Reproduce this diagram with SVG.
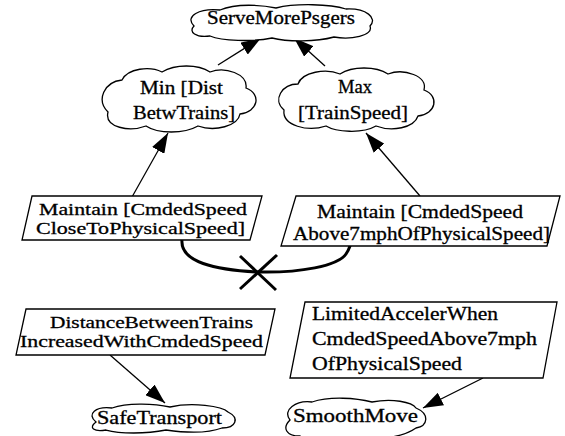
<svg xmlns="http://www.w3.org/2000/svg" width="565" height="436" viewBox="0 0 565 436">
<style>
text{font-family:"Liberation Serif","Times New Roman",serif;font-size:18px;fill:#000;stroke:#000;stroke-width:0.3}
text.tight{font-size:17px}
.shape{fill:#fff;stroke:#000;stroke-width:1.3}
.edge{fill:none;stroke:#000;stroke-width:1.3}
.bold{fill:none;stroke:#000;stroke-width:3}
</style>
<defs>
<marker id="ah" viewBox="0 0 20 14" refX="20" refY="7" markerWidth="20" markerHeight="14" markerUnits="userSpaceOnUse" orient="auto">
<path d="M0,0 L20,7 L0,14 Z" fill="#000"/>
</marker>
</defs>
<rect width="565" height="436" fill="#fff"/>
<g id="connectors">
<line class="edge" x1="218" y1="65" x2="261" y2="38" marker-end="url(#ah)"/>
<line class="edge" x1="325" y1="66" x2="294" y2="38" marker-end="url(#ah)"/>
<line class="edge" x1="132" y1="197" x2="168" y2="133" marker-end="url(#ah)"/>
<line class="edge" x1="420" y1="196" x2="366" y2="133" marker-end="url(#ah)"/>
<line class="edge" x1="110" y1="355" x2="165" y2="403" marker-end="url(#ah)"/>
<line class="edge" x1="483" y1="378" x2="423" y2="408" marker-end="url(#ah)"/>
<path class="bold" d="M182,240 C180,262 215,270 258,272 C300,273 338,266 346,254 C350,248 351,244 351,240"/>
<line class="bold" x1="240" y1="256" x2="276" y2="290"/>
<line class="bold" x1="277" y1="255" x2="240" y2="289"/>
</g>
<g id="ServeMorePsgers">
<path class="shape" d="M194,26 C184,16 200,8 220,10 C236,3 262,5 276,8 C296,3 330,4 346,9 C366,8 378,18 370,26 C374,36 350,40 334,37 C316,42 288,42 272,38 C252,42 222,41 210,36 C196,38 188,32 194,26 Z"/>
<text x="207" y="24" textLength="148" lengthAdjust="spacingAndGlyphs">ServeMorePsgers</text>
</g>
<g id="MinDist">
<path class="shape" d="M108,112 C96,100 104,82 122,80 C128,68 150,66 162,72 C175,64 198,64 210,72 C225,66 248,74 246,88 C262,94 258,112 240,114 C238,126 215,132 198,126 C184,134 158,134 146,126 C130,132 104,128 108,112 Z"/>
<text x="140" y="94" textLength="83" lengthAdjust="spacingAndGlyphs">Min [Dist</text>
<text x="133" y="119" textLength="102" lengthAdjust="spacingAndGlyphs">BetwTrains]</text>
</g>
<g id="MaxSpeed">
<path class="shape" d="M284,110 C272,100 282,84 298,84 C302,72 326,68 340,74 C352,66 376,66 388,74 C404,68 428,76 424,90 C440,96 436,114 418,116 C414,128 392,132 376,126 C362,134 336,132 326,126 C308,132 282,126 284,110 Z"/>
<text x="338" y="93" textLength="34" lengthAdjust="spacingAndGlyphs">Max</text>
<text x="298" y="119" textLength="110" lengthAdjust="spacingAndGlyphs">[TrainSpeed]</text>
</g>
<g id="MaintainClose">
<polygon class="shape" points="32,196 262,196 250,240 22,240"/>
<text class="tight" x="39" y="215" textLength="208" lengthAdjust="spacingAndGlyphs">Maintain [CmdedSpeed</text>
<text class="tight" x="36" y="234" textLength="209" lengthAdjust="spacingAndGlyphs">CloseToPhysicalSpeed]</text>
</g>
<g id="MaintainAbove">
<polygon class="shape" points="296,196 560,196 547,246 281,246"/>
<text x="317" y="218" textLength="206" lengthAdjust="spacingAndGlyphs">Maintain [CmdedSpeed</text>
<text x="293" y="240" textLength="257" lengthAdjust="spacingAndGlyphs">Above7mphOfPhysicalSpeed]</text>
</g>
<g id="DistanceIncreased">
<polygon class="shape" points="26,309 275,309 265,355 16,355"/>
<text class="tight" x="50" y="328" textLength="203" lengthAdjust="spacingAndGlyphs">DistanceBetweenTrains</text>
<text class="tight" x="20" y="347" textLength="243" lengthAdjust="spacingAndGlyphs">IncreasedWithCmdedSpeed</text>
</g>
<g id="LimitedAcceler">
<polygon class="shape" points="305,302 557,302 543,378 290,378"/>
<text x="312" y="320" textLength="186" lengthAdjust="spacingAndGlyphs">LimitedAccelerWhen</text>
<text x="312" y="345" textLength="225" lengthAdjust="spacingAndGlyphs">CmdedSpeedAbove7mph</text>
<text x="312" y="370" textLength="150" lengthAdjust="spacingAndGlyphs">OfPhysicalSpeed</text>
</g>
<g id="SafeTransport">
<path class="shape" d="M96,422 C86,414 96,406 112,408 C128,402 156,404 170,407 C192,402 222,406 228,412 C240,418 236,428 222,428 C206,434 180,432 166,430 C146,434 120,434 106,430 C94,432 88,428 96,422 Z"/>
<text x="97" y="424" textLength="125" lengthAdjust="spacingAndGlyphs">SafeTransport</text>
</g>
<g id="SmoothMove">
<path class="shape" d="M290,420 C282,410 296,400 312,402 C330,396 356,398 372,402 C392,398 412,402 416,408 C430,414 428,426 416,428 C402,438 376,440 360,438 C340,442 310,442 300,436 C286,436 282,428 290,420 Z"/>
<text x="293" y="422" textLength="125" lengthAdjust="spacingAndGlyphs">SmoothMove</text>
</g>
</svg>
